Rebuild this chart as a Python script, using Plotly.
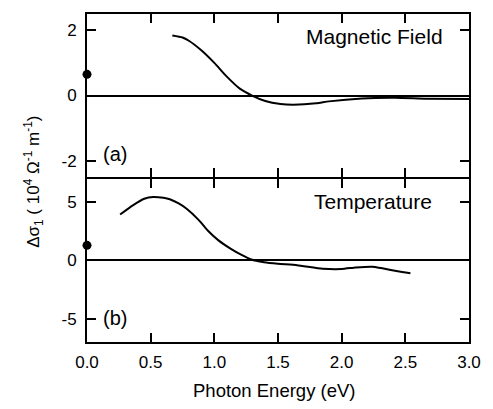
import plotly.graph_objects as go

# ---- data ----
field_energy = [0.67, 0.75, 0.80, 0.90, 1.00, 1.10, 1.20, 1.30, 1.40, 1.52, 1.62, 1.80, 1.90, 2.16, 2.42, 2.67, 3.00]
field_dsigma = [1.84, 1.78, 1.68, 1.38, 1.00, 0.57, 0.21, -0.01, -0.17, -0.26, -0.28, -0.24, -0.18, -0.09, -0.07, -0.10, -0.11]

temp_energy = [0.26, 0.36, 0.45, 0.52, 0.60, 0.65, 0.72, 0.78, 0.88, 0.95, 1.03, 1.13, 1.21, 1.29, 1.39, 1.50,
               1.65, 1.85, 2.00, 2.11, 2.24, 2.31, 2.44, 2.54]
temp_dsigma = [3.95, 4.74, 5.30, 5.45, 5.38, 5.26, 4.90, 4.46, 3.45, 2.55, 1.75, 1.00, 0.50, 0.08, -0.15, -0.28,
               -0.40, -0.70, -0.73, -0.60, -0.53, -0.65, -0.92, -1.09]

field_dc_x, field_dc_y = [0.0], [0.65]
temp_dc_x, temp_dc_y = [0.0], [1.3]

x_ticks = [0.0, 0.5, 1.0, 1.5, 2.0, 2.5, 3.0]
x_ticktext = ["0.0", "0.5", "1.0", "1.5", "2.0", "2.5", "3.0"]
top_yticks = [-2, 0, 2]
top_yticktext = ["-2", "0", "2"]
bot_yticks = [-5, 0, 5]
bot_yticktext = ["-5", "0", "5"]

FONT = "Liberation Sans, Arial, Helvetica, sans-serif"

fig = go.Figure()
fig.add_trace(go.Scatter(x=field_energy, y=field_dsigma, mode="lines",
                         line=dict(color="black", width=2, shape="spline", smoothing=0.6),
                         xaxis="x", yaxis="y", showlegend=False))
fig.add_trace(go.Scatter(x=field_dc_x, y=field_dc_y, mode="markers",
                         marker=dict(color="black", size=9), cliponaxis=False,
                         xaxis="x", yaxis="y", showlegend=False))
fig.add_trace(go.Scatter(x=temp_energy, y=temp_dsigma, mode="lines",
                         line=dict(color="black", width=2, shape="spline", smoothing=0.5),
                         xaxis="x2", yaxis="y2", showlegend=False))
fig.add_trace(go.Scatter(x=temp_dc_x, y=temp_dc_y, mode="markers",
                         marker=dict(color="black", size=9), cliponaxis=False,
                         xaxis="x2", yaxis="y2", showlegend=False))

axis_common = dict(showline=True, linecolor="black", linewidth=2, mirror="ticks",
                   ticks="inside", ticklen=9, tickwidth=1.5, tickcolor="black",
                   showgrid=False)

fig.update_layout(
    width=493, height=409,
    margin=dict(l=87, r=18, t=12, b=67),
    paper_bgcolor="white", plot_bgcolor="white",
    font=dict(family=FONT, size=17, color="black"),
    xaxis=dict(domain=[0, 1], anchor="y", range=[0, 3], tickvals=x_ticks,
               showticklabels=False, zeroline=False, **axis_common),
    yaxis=dict(domain=[0.503, 1], anchor="x", range=[-2.5, 2.5], tickvals=top_yticks,
               ticktext=top_yticktext, zeroline=True, zerolinecolor="black",
               zerolinewidth=1.5, ticklabelstandoff=5, **axis_common),
    xaxis2=dict(domain=[0, 1], anchor="y2", range=[0, 3], tickvals=x_ticks,
                ticktext=x_ticktext, zeroline=False, ticklabelstandoff=4, **axis_common),
    yaxis2=dict(domain=[0, 0.497], anchor="x2", range=[-7, 7], tickvals=bot_yticks,
                ticktext=bot_yticktext, zeroline=True, zerolinecolor="black",
                zerolinewidth=1.5, ticklabelstandoff=5, **axis_common),
)

fig.add_annotation(text="Magnetic Field", x=2.26, y=1.82, xref="x", yref="y",
                   showarrow=False, font=dict(size=21))
fig.add_annotation(text="Temperature", x=2.245, y=5.1, xref="x2", yref="y2",
                   showarrow=False, font=dict(size=21))
fig.add_annotation(text="(a)", x=0.223, y=-1.8, xref="x", yref="y",
                   showarrow=False, font=dict(size=20))
fig.add_annotation(text="(b)", x=0.223, y=-4.95, xref="x2", yref="y2",
                   showarrow=False, font=dict(size=20))
fig.add_annotation(text="Photon Energy (eV)", x=0.49, y=-0.1485, xref="paper", yref="paper",
                   showarrow=False, font=dict(size=18.5), yanchor="middle")
fig.add_annotation(text="\u0394\u03c3<sub>1</sub> ( 10<sup>4</sup> \u03a9<sup>-1</sup> m<sup>-1</sup>)",
                   x=-0.139, y=0.488, xref="paper", yref="paper", textangle=-90,
                   showarrow=False, font=dict(size=17), xanchor="center", yanchor="middle")

fig.write_html("out.html")
